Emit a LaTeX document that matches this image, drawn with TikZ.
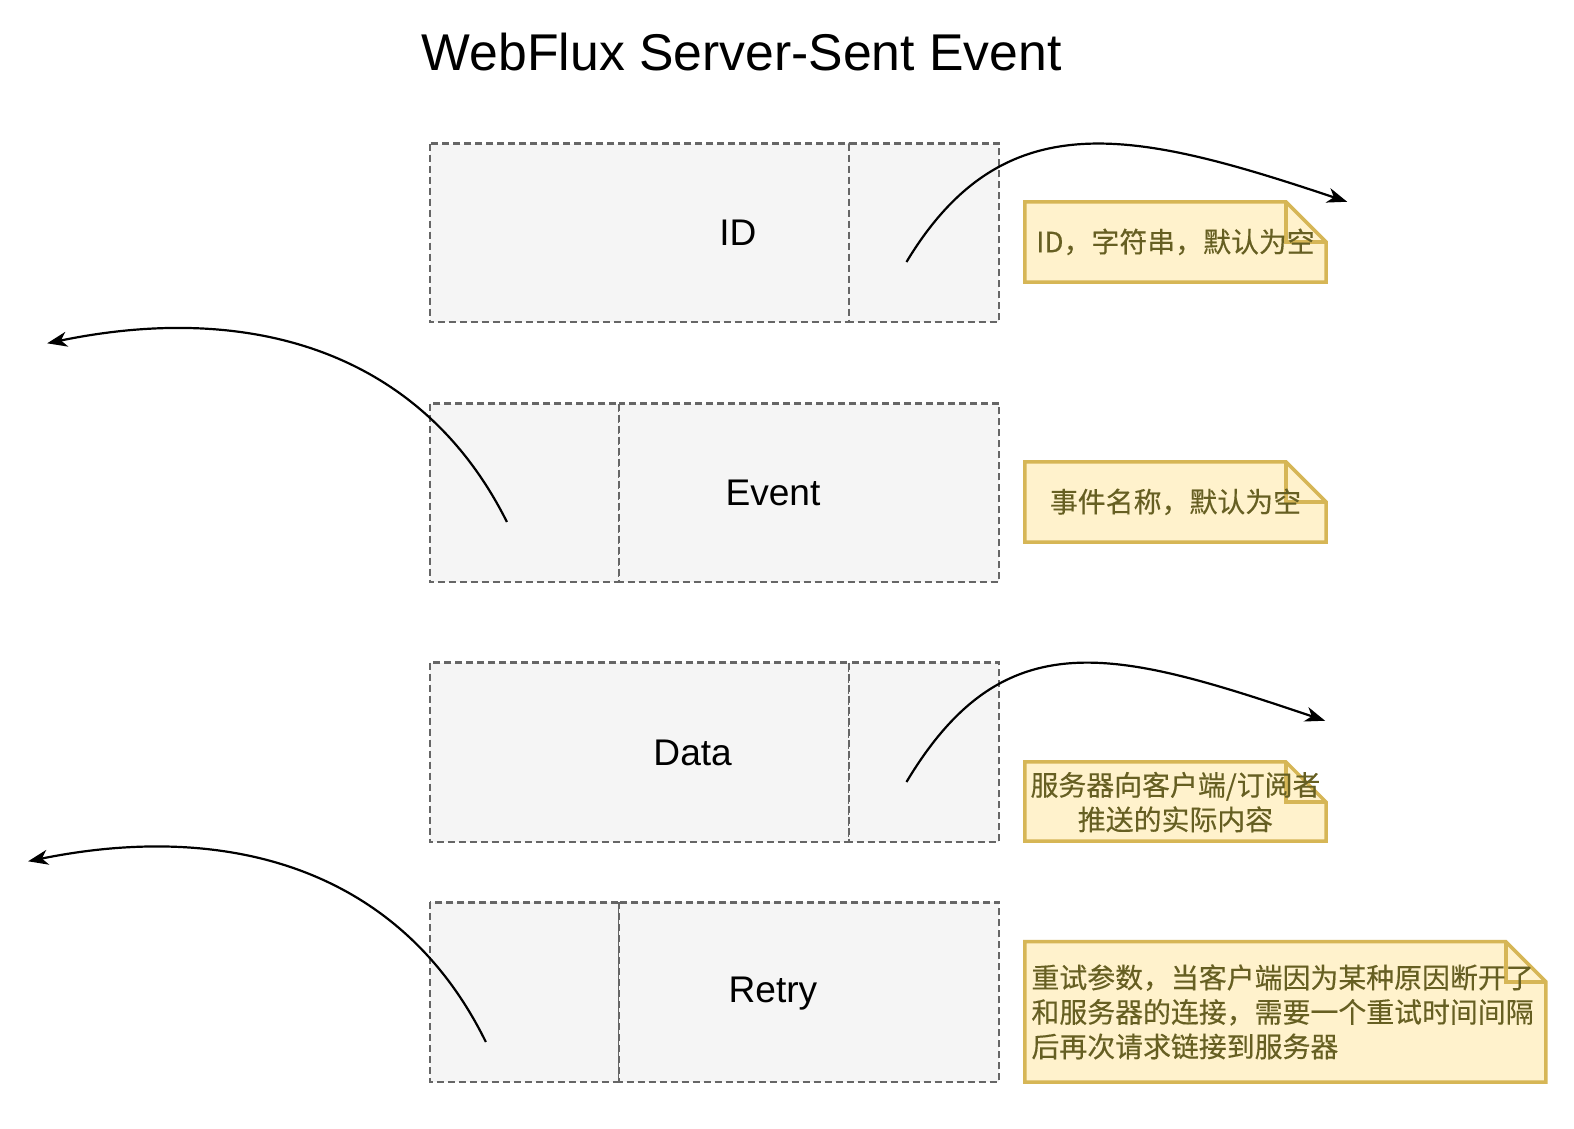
\documentclass[tikz,border=0pt]{standalone}
\usepackage{fontspec}
\setmainfont{Liberation Sans}
\newfontfamily\cjk[FakeBold=0.3]{Noto Sans CJK SC}
\usetikzlibrary{arrows.meta}
\definecolor{boxfill}{HTML}{F5F5F5}
\definecolor{boxline}{HTML}{666666}
\definecolor{notefill}{HTML}{FFF2CC}
\definecolor{noteline}{HTML}{D6B656}
\definecolor{notetext}{HTML}{665F22}
\newcommand\mknote[4]{% x y w h  (fold 40)
  \path[notebox] (#1,#2) -- ({#1+#3-40},#2) -- ({#1+#3},{#2+40}) -- ({#1+#3},{#2+#4}) -- (#1,{#2+#4}) -- cycle;
  \draw[notebox,fill=none] ({#1+#3-40},#2) -- ({#1+#3-40},{#2+40}) -- ({#1+#3},{#2+40});
}
\begin{document}
\begin{tikzpicture}[x=1.00383pt,y=-1.00383pt,
  fieldbox/.style={draw=boxline,fill=boxfill,line width=2.2pt,dash pattern=on 7pt off 4pt},
  lbl/.style={font=\fontsize{37.1}{44}\selectfont},
  conn/.style={line width=2.2pt,-{Stealth[length=20pt,width=15pt,inset=6pt]}},
  notebox/.style={draw=noteline,fill=notefill,line width=3.5pt},
  notetxt/.style={font=\cjk\fontsize{27.9}{34.5}\selectfont,text=notetext,align=center}]
\path[fill=white] (0,0) rectangle (1568,1124);
\useasboundingbox (0,0) rectangle (1568,1124);

% title
\node[font=\fontsize{51.7}{60}\selectfont] (title) at (739,52) {WebFlux Server-Sent Event};

% row 1
\path[fieldbox] (428,143) rectangle (846,321);
\path[fieldbox] (846,143) rectangle (995,321);
\node[lbl] (tid) at (735,232) {ID};
% row 2
\path[fieldbox] (428,402) rectangle (617,580);
\path[fieldbox] (617,402) rectangle (995,580);
\node[lbl] (tevent) at (770,491) {Event};
% row 3
\path[fieldbox] (428,660) rectangle (846,839);
\path[fieldbox] (846,660) rectangle (995,839);
\node[lbl] (tdata) at (690,750) {Data};
% row 4
\path[fieldbox] (428,899) rectangle (617,1078);
\path[fieldbox] (617,899) rectangle (995,1078);
\node[lbl] (tretry) at (770,990) {Retry};

% notes
\mknote{1021}{201}{300}{80}
\node[notetxt] (n1) at (1171,241) {ID，字符串，默认为空};
\mknote{1021}{460}{300}{80}
\node[notetxt] (n2) at (1171,500) {事件名称，默认为空};
\mknote{1021}{759}{300}{79}
\node[notetxt] (n3) at (1171,799) {服务器向客户端/订阅者\\推送的实际内容};
\mknote{1021}{938}{519}{140}
\node[notetxt,align=left,anchor=west] (n4) at (1024,1008) {重试参数，当客户端因为某种原因断开了\\和服务器的连接，需要一个重试时间间隔\\后再次请求链接到服务器};

% connectors
\coordinate (s1) at (903,261);
\coordinate (e1) at (1342,201);
\coordinate (s2) at (505,520);
\coordinate (e2) at (47,342);
\coordinate (s3) at (903,779);
\coordinate (e3) at (1320,718);
\coordinate (s4) at (484,1038);
\coordinate (e4) at (28,858);
\draw[conn] (s1) .. controls (1000,100) and (1130,130) .. (e1);
\draw[conn] (s2) .. controls (420,350) and (250,300) .. (e2);
\draw[conn] (s3) .. controls (1000,617) and (1110,647) .. (e3);
\draw[conn] (s4) .. controls (400,867) and (230,817) .. (e4);
\end{tikzpicture}
\end{document}
